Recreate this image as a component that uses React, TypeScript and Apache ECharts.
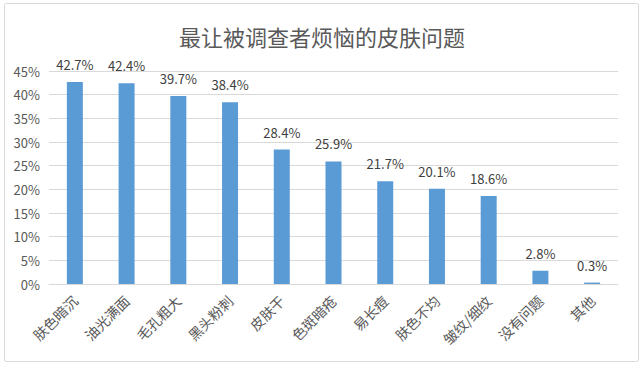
import React, { useEffect, useRef } from "react";
import * as echarts from "echarts";

const categories = ["肤色暗沉", "油光满面", "毛孔粗大", "黑头粉刺", "皮肤干", "色斑暗疮", "易长痘", "肤色不均", "皱纹/细纹", "没有问题", "其他"];
const values = [42.7, 42.4, 39.7, 38.4, 28.4, 25.9, 21.7, 20.1, 18.6, 2.8, 0.3];
const titleText = "最让被调查者烦恼的皮肤问题";

export default function App() {
  const ref = useRef<HTMLDivElement>(null);
  useEffect(() => {
    if (!ref.current) return;
    const chart = echarts.init(ref.current, null, { renderer: "svg" });
    const font = "'Noto Sans CJK SC', 'Noto Sans', sans-serif";
    chart.setOption({
      animation: false,
      backgroundColor: "#ffffff",
      title: {
        text: titleText,
        left: "center",
        top: 20,
        textStyle: { fontSize: 22, fontWeight: "normal", color: "#595959", fontFamily: font },
      },
      graphic: [
        {
          type: "rect",
          shape: { x: 4.5, y: 3.5, width: 634, height: 358, r: 2 },
          style: { fill: "none", stroke: "#d9d9d9", lineWidth: 1 },
          silent: true,
        },
      ],
      grid: { left: 49, right: 26, top: 71, bottom: 81 },
      xAxis: {
        type: "category",
        data: categories,
        axisLine: { lineStyle: { color: "#d9d9d9" } },
        axisTick: { show: false },
        axisLabel: { rotate: 45, color: "#595959", fontSize: 14, fontFamily: font, margin: 14, interval: 0 },
      },
      yAxis: {
        type: "value",
        min: 0,
        max: 45,
        interval: 5,
        axisLine: { show: false },
        axisTick: { show: false },
        splitLine: { lineStyle: { color: "#d9d9d9" } },
        axisLabel: { formatter: "{value}%", color: "#595959", fontSize: 13, fontFamily: font, margin: 9 },
      },
      series: [
        {
          type: "bar",
          data: values,
          barWidth: 16,
          itemStyle: { color: "#5b9bd5" },
          label: {
            show: true,
            position: "top",
            distance: 11,
            formatter: (p: any) => p.value.toFixed(1) + "%",
            color: "#404040",
            fontSize: 13,
            fontFamily: font,
          },
        },
      ],
    });
    return () => chart.dispose();
  }, []);
  return <div ref={ref} style={{ position: "fixed", left: 0, top: 0, width: 644, height: 365 }} />;
}
